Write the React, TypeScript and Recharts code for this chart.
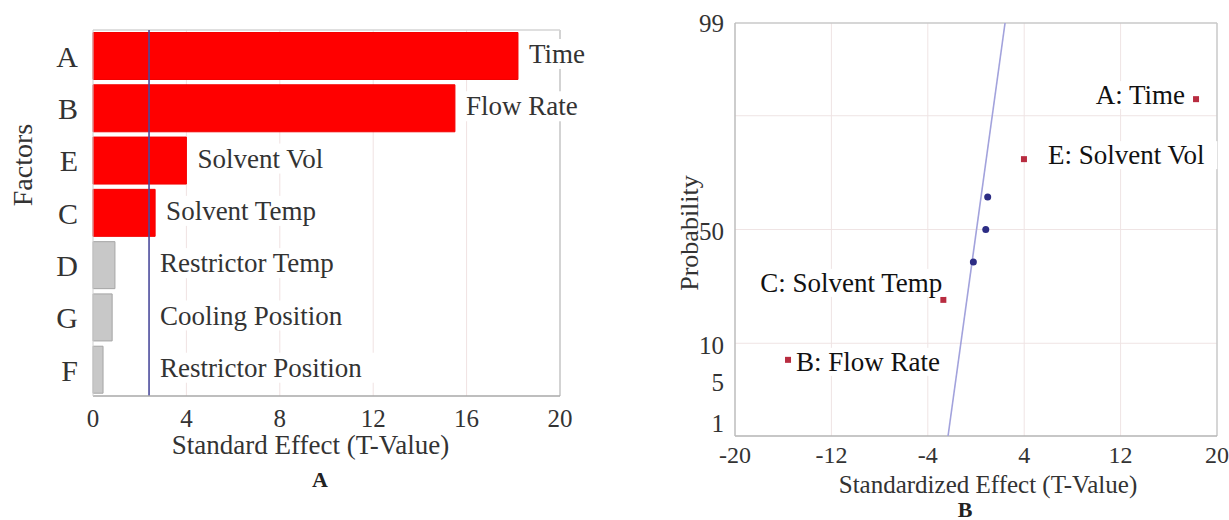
import React from "react";
import {
  Bar,
  BarChart,
  CartesianGrid,
  Cell,
  Label,
  LabelList,
  ReferenceLine,
  Scatter,
  ScatterChart,
  XAxis,
  YAxis,
} from "recharts";

const FONT = '"Liberation Serif", "Times New Roman", serif';

// Panel A: Pareto chart of standardized effects
const factorCodes = ["A", "B", "E", "C", "D", "G", "F"];
const factorNames = [
  "Time",
  "Flow Rate",
  "Solvent Vol",
  "Solvent Temp",
  "Restrictor Temp",
  "Cooling Position",
  "Restrictor Position",
];
const standardEffects = [18.2, 15.5, 4.0, 2.66, 0.94, 0.82, 0.43];
const significant = [true, true, true, true, false, false, false];
const criticalT = 2.4;
const paretoTicks = [0, 4, 8, 12, 16, 20];
const paretoGrid = [4, 8, 12, 16];

// Panel B: normal probability plot
const normalNames = ["B: Flow Rate", "C: Solvent Temp", "F", "G", "D", "E: Solvent Vol", "A: Time"];
const normalEffects = [-15.6, -2.71, -0.22, 0.81, 0.97, 3.98, 18.26];
const normalProbs = [7.1, 21.4, 35.7, 50, 64.3, 78.6, 92.9];
const normalSignificant = [true, true, false, false, false, true, true];
const fitEffects = [-2.32, 2.41];
const fitProbs = [1, 99];
const probTicks = [1, 5, 10, 50, 99];
const probGrid = [10, 50, 90];
const effectTicks = [-20, -12, -4, 4, 12, 20];
const effectGrid = [-12, -4, 4, 12];

// inverse normal cdf (Acklam), used for the probability axis
function probit(p: number): number {
  const a = [-39.69683028665376, 220.9460984245205, -275.9285104469687, 138.357751867269, -30.66479806614716, 2.506628277459239];
  const b = [-54.47609879822406, 161.5858368580409, -155.6989798598866, 66.80131188771972, -13.28068155288572];
  const c = [-0.007784894002430293, -0.3223964580411365, -2.400758277161838, -2.549732539343734, 4.374664141464968, 2.938163982698783];
  const d = [0.007784695709041462, 0.3224671290700398, 2.445134137142996, 3.754408661907416];
  const lo = 0.02425;
  if (p < lo || p > 1 - lo) {
    const q = Math.sqrt(-2 * Math.log(p < lo ? p : 1 - p));
    const v =
      (((((c[0] * q + c[1]) * q + c[2]) * q + c[3]) * q + c[4]) * q + c[5]) /
      ((((d[0] * q + d[1]) * q + d[2]) * q + d[3]) * q + 1);
    return p < lo ? v : -v;
  }
  const q = p - 0.5;
  const r = q * q;
  return (
    ((((((a[0] * r + a[1]) * r + a[2]) * r + a[3]) * r + a[4]) * r + a[5]) * q) /
    (((((b[0] * r + b[1]) * r + b[2]) * r + b[3]) * r + b[4]) * r + 1)
  );
}

const paretoRows = factorCodes.map((code, i) => ({
  code,
  name: factorNames[i],
  effect: standardEffects[i],
  sig: significant[i],
}));

const normalRows = normalNames.map((name, i) => ({
  name,
  effect: normalEffects[i],
  z: probit(normalProbs[i] / 100),
  sig: normalSignificant[i],
}));
const sigPoints = normalRows.filter((r) => r.sig);
const otherPoints = normalRows.filter((r) => !r.sig);
const fitRows = fitEffects.map((e, i) => ({ effect: e, z: probit(fitProbs[i] / 100) }));
const zTicks = probTicks.map((p) => probit(p / 100));
const zGrid = probGrid.map((p) => probit(p / 100));
const zMin = zTicks[0];
const zMax = zTicks[zTicks.length - 1];

const textStyle = { fontFamily: FONT, fill: "#333" };

function boxOf(props: any) {
  const vb = props.viewBox || {};
  return {
    x: Number(vb.x ?? props.x),
    y: Number(vb.y ?? props.y),
    w: Number(vb.width ?? props.width ?? 0),
    h: Number(vb.height ?? props.height ?? 0),
  };
}

function BarNameLabel(props: any) {
  const { x, y, w, h } = boxOf(props);
  const row = paretoRows.find((r) => r.name === props.value);
  if (!row) return <g />;
  const pxPerUnit = w / row.effect;
  const startX = Math.max(x + w, x + criticalT * pxPerUnit) + 11;
  const cy = y + h / 2 - 2;
  const textW = row.name.length * 27 * 0.46;
  return (
    <g>
      <rect x={startX - 3} y={cy - 15} width={textW + 6} height={30} fill="#fff" />
      <text x={startX} y={cy} dy="0.34em" fontSize={27} style={{ ...textStyle, fill: "#333" }}>
        {row.name}
      </text>
    </g>
  );
}

const pointLabelPlace: Record<string, { dx: number; dy: number; anchor: "start" | "end" }> = {
  "A: Time": { dx: -11, dy: -4, anchor: "end" },
  "E: Solvent Vol": { dx: 24, dy: -4, anchor: "start" },
  "C: Solvent Temp": { dx: -1, dy: -17, anchor: "end" },
  "B: Flow Rate": { dx: 8, dy: 2, anchor: "start" },
};

function PointLabel(props: any) {
  const { x, y, w, h } = boxOf(props);
  const place = pointLabelPlace[props.value];
  if (!place) return <g />;
  const cx = props.cx ?? x + w / 2;
  const cy = props.cy ?? y + h / 2;
  const tx = cx + place.dx;
  const ty = cy + place.dy;
  const textW = String(props.value).length * 27 * 0.44;
  const rx = place.anchor === "start" ? tx - 3 : tx - textW - 3;
  return (
    <g>
      <rect x={rx} y={ty - 14} width={textW + 6} height={28} fill="#fff" />
      <text x={tx} y={ty} dy="0.34em" textAnchor={place.anchor} fontSize={27} style={{ ...textStyle, fill: "#111" }}>
        {props.value}
      </text>
    </g>
  );
}

const probTickShift: Record<number, number> = { 1: -13, 5: 7, 10: 2, 50: 2, 99: 0 };

function ProbTick(props: any) {
  const v = props.payload?.value;
  const i = zTicks.findIndex((t) => Math.abs(t - v) < 1e-6);
  const p = probTicks[i];
  if (p === undefined) return <g />;
  return (
    <text x={props.x} y={props.y + (probTickShift[p] || 0)} dy="0.34em" textAnchor="end" fontSize={25} style={textStyle}>
      {p}
    </text>
  );
}

function ParetoChart() {
  return (
    <BarChart
      width={620}
      height={520}
      data={paretoRows}
      layout="vertical"
      margin={{ top: 30, right: 60, bottom: 94, left: 0 }}
      barCategoryGap={2.5}
    >
      <CartesianGrid horizontal={false} verticalValues={paretoGrid} stroke="#f0e2e2" />
      <XAxis
        type="number"
        domain={[0, 20]}
        ticks={paretoTicks}
        interval={0}
        tickLine={false}
        tickSize={0}
        tickMargin={13}
        axisLine={{ stroke: "#a8a8a8", strokeWidth: 1.5 }}
        tick={{ fontSize: 25, ...textStyle }}
      >
        <Label
          content={(p: any) => (
            <text
              x={p.viewBox.x + p.viewBox.width / 2 - 16}
              y={p.viewBox.y + 58}
              textAnchor="middle"
              fontSize={27}
              style={textStyle}
            >
              Standard Effect (T-Value)
            </text>
          )}
        />
      </XAxis>
      <YAxis
        type="category"
        dataKey="code"
        width={93}
        tickLine={false}
        tickSize={0}
        tickMargin={15}
        axisLine={{ stroke: "#cfcfcf" }}
        tick={{ fontSize: 30, ...textStyle }}
      >
        <Label
          content={(p: any) => {
            const cx = p.viewBox.x + 22;
            const cy = p.viewBox.y + 135;
            return (
              <text
                x={cx}
                y={cy}
                dy="0.34em"
                transform={`rotate(-90, ${cx}, ${cy})`}
                textAnchor="middle"
                fontSize={28}
                style={textStyle}
              >
                Factors
              </text>
            );
          }}
        />
      </YAxis>
      <ReferenceLine x={20} stroke="#c4c4c4" strokeWidth={1.5} />
      <ReferenceLine y="A" position="start" stroke="#d4d4d4" strokeWidth={1.5} />
      <Bar dataKey="effect" isAnimationActive={false}>
        {paretoRows.map((r) => (
          <Cell
            key={r.code}
            fill={r.sig ? "#ff0000" : "#c8c8c8"}
            stroke={r.sig ? "#f20000" : "#a6a6a6"}
            strokeWidth={1}
          />
        ))}
        <LabelList dataKey="name" content={BarNameLabel} />
      </Bar>
      <ReferenceLine x={criticalT} stroke="#4b4b9c" strokeWidth={1.6} />
    </BarChart>
  );
}

function NormalPlot() {
  return (
    <ScatterChart width={609} height={520} margin={{ top: 23, right: 12, bottom: 54, left: 0 }}>
      <CartesianGrid verticalValues={effectGrid} horizontalValues={zGrid} stroke="#efe4e4" />
      <XAxis
        type="number"
        dataKey="effect"
        domain={[-20, 20]}
        ticks={effectTicks}
        interval={0}
        tickLine={false}
        tickSize={0}
        tickMargin={10}
        axisLine={{ stroke: "#b4b4b4", strokeWidth: 1.5 }}
        tick={{ fontSize: 24, ...textStyle }}
      >
        <Label
          content={(p: any) => (
            <text
              x={p.viewBox.x + p.viewBox.width / 2 + 12}
              y={p.viewBox.y + 57}
              textAnchor="middle"
              fontSize={25}
              style={textStyle}
            >
              Standardized Effect (T-Value)
            </text>
          )}
        />
      </XAxis>
      <YAxis
        type="number"
        dataKey="z"
        domain={[zMin, zMax]}
        ticks={zTicks}
        interval={0}
        width={115}
        tickLine={false}
        tickSize={0}
        tickMargin={11}
        axisLine={{ stroke: "#bcbcbc", strokeWidth: 1.5 }}
        tick={ProbTick}
      >
        <Label
          content={(p: any) => {
            const cx = p.viewBox.x + 69;
            const cy = p.viewBox.y + 210;
            return (
              <text
                x={cx}
                y={cy}
                dy="0.34em"
                transform={`rotate(-90, ${cx}, ${cy})`}
                textAnchor="middle"
                fontSize={26}
                style={textStyle}
              >
                Probability
              </text>
            );
          }}
        />
      </YAxis>
      <ReferenceLine y={zMax} stroke="#c8c8c8" strokeWidth={1.5} />
      <ReferenceLine x={20} stroke="#c8c8c8" strokeWidth={1.5} />
      <Scatter
        data={fitRows}
        line={{ stroke: "#a2a2dc", strokeWidth: 1.6 }}
        shape={() => <g />}
        isAnimationActive={false}
      />
      <Scatter
        data={otherPoints}
        isAnimationActive={false}
        shape={(p: any) => <circle cx={p.cx} cy={p.cy} r={3.5} fill="#2c2c84" />}
      />
      <Scatter
        data={sigPoints}
        isAnimationActive={false}
        shape={(p: any) => <rect x={p.cx - 3} y={p.cy - 3} width={6} height={6} fill="#b82c40" />}
      >
        <LabelList dataKey="name" content={PointLabel} />
      </Scatter>
    </ScatterChart>
  );
}

const panelLetter = {
  position: "absolute" as const,
  width: 40,
  height: 22,
  lineHeight: "22px",
  textAlign: "center" as const,
  fontFamily: FONT,
  fontWeight: "bold" as const,
  fontSize: 22,
  color: "#222",
};

export default function App() {
  return (
    <div style={{ position: "absolute", left: 0, top: 0, width: 1229, height: 520, background: "#fff" }}>
      <div style={{ position: "absolute", left: 0, top: 0 }}>
        <ParetoChart />
      </div>
      <div style={{ position: "absolute", left: 620, top: 0 }}>
        <NormalPlot />
      </div>
      <div style={{ ...panelLetter, left: 300, top: 469 }}>A</div>
      <div style={{ ...panelLetter, left: 945, top: 499 }}>B</div>
    </div>
  );
}
